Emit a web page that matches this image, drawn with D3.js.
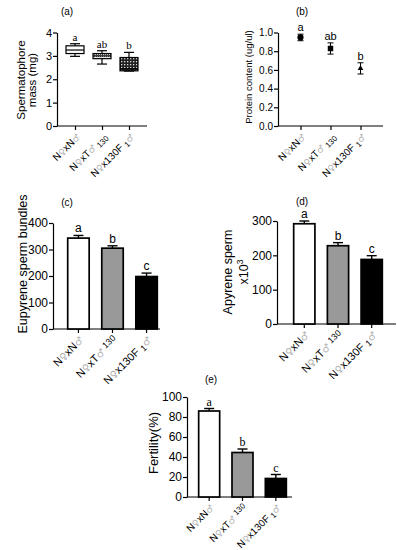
<!DOCTYPE html>
<html>
<head>
<meta http-equiv='Content-Type' content='text/html;charset=utf-8'/>
<title>Mating experiments</title>
<script src='https://cdnjs.cloudflare.com/ajax/libs/d3/7.8.5/d3.min.js'></script>
<style>
	body { margin: 0; background: #fff; }
	text { font-family: Arial, 'Liberation Sans', sans-serif; fill: #000; }
</style>
</head>
<body>
<script>
'use strict'

// groups (crosses) shared by every panel
const groups = ['NxN', 'NxT130', 'Nx130F1']

// (a) spermatophore mass (mg): min, q1, median, q3, max
const massBox = [
	[2.98, 3.1, 3.25, 3.43, 3.52],
	[2.65, 2.88, 3.0, 3.1, 3.22],
	[2.35, 2.36, 2.45, 2.93, 3.15]
]
const massLetters = ['a', 'ab', 'b']
const massTicks = [0, 1, 2, 3, 4]

// (b) protein content (ug/ul)
const protein = [0.947, 0.829, 0.616]
const proteinErr = [0.035, 0.06, 0.06]
const proteinLetters = ['a', 'ab', 'b']
const proteinTicks = [0, 0.2, 0.4, 0.6, 0.8, 1.0]

// (c) eupyrene sperm bundles
const eupyrene = [343, 305, 198]
const eupyreneErr = [10, 9, 13]
const eupyreneLetters = ['a', 'b', 'c']
const eupyreneTicks = [0, 100, 200, 300, 400]

// (d) apyrene sperm x10^3
const apyrene = [292, 228, 188]
const apyreneErr = [8, 9, 11]
const apyreneLetters = ['a', 'b', 'c']
const apyreneTicks = [0, 100, 200, 300]

// (e) fertility (%)
const fertility = [86, 44.5, 18.5]
const fertilityErr = [2.5, 3.5, 4]
const fertilityLetters = ['a', 'b', 'c']
const fertilityTicks = [0, 20, 40, 60, 80, 100]

const barFills = ['#ffffff', '#999999', '#000000']
const symbolGray = '#b0b0b0'

const svg = d3.select('body').append('svg')
	.attr('width', 397)
	.attr('height', 550)

svg.append('rect')
	.attr('width', '100%')
	.attr('height', '100%')
	.attr('fill', '#ffffff')

const defs = svg.append('defs')

// fine dotted fill for the second box
const dots = defs.append('pattern')
	.attr('id', 'dots')
	.attr('width', 2).attr('height', 2)
	.attr('patternUnits', 'userSpaceOnUse')
dots.append('rect').attr('width', 2).attr('height', 2).attr('fill', '#e6e6e6')
dots.append('rect').attr('width', 1).attr('height', 1).attr('fill', '#555')

// checkered fill for the third box
const checks = defs.append('pattern')
	.attr('id', 'checks')
	.attr('width', 3).attr('height', 3)
	.attr('patternUnits', 'userSpaceOnUse')
checks.append('rect').attr('width', 3).attr('height', 3).attr('fill', '#222')
checks.append('rect').attr('x', 1).attr('y', 1).attr('width', 1.3).attr('height', 1.3).attr('fill', '#ddd')

const boxFills = ['#ffffff', 'url(#dots)', 'url(#checks)']

// pieces of each tick label: text and kind (g = grey symbol, s = small index)
const labelParts = [
	[['N'], ['\u2640', 'g'], ['xN'], ['\u2642', 'g']],
	[['N'], ['\u2640', 'g'], ['xT'], ['\u2642', 'g'], [' 130', 's']],
	[['N'], ['\u2640', 'g'], ['x130F '], ['1', 's'], ['\u2642', 'g']]
]

/**
 * tickLabel
 * Writes one rotated group name with grey sex symbols.
 * raise: shift of the small "130" (negative = up)
 */
function tickLabel(g, i, size, raise)
{
	const parts = labelParts[i]
	const t = g.append('text')
		.attr('text-anchor', 'end')
		.attr('font-size', size)
		.attr('dy', '0.35em')
		.attr('transform', 'translate(3,9) rotate(-45)')
	let shifted = 0
	parts.forEach(function(p) {
		const s = t.append('tspan').text(p[0])
		if (p[1] == 'g')
			s.style('fill', symbolGray).attr('font-family', 'DejaVu Sans').attr('font-size', size * 0.9)
		if (p[1] == 's') {
			shifted = p[0] == ' 130' ? raise : 2
			s.attr('font-size', size * 0.8).attr('dy', shifted)
		}
		else if (shifted) {
			s.attr('dy', -shifted)
			shifted = 0
		}
	})
}

/**
 * panel
 * Sets up the axes of one panel and returns its scales.
 */
function panel(o)
{
	const g = svg.append('g')
	const y = d3.scaleLinear().domain(o.yDomain).range([o.y0, o.y1])
	let x
	if (o.band)
		x = d3.scaleBand().domain(groups).range(o.xRange).paddingInner(0.37).paddingOuter(0.05)
	else
		x = d3.scalePoint().domain(groups).range([o.ax0, o.ax1]).padding(o.pad)

	const yAxis = d3.axisLeft(y)
		.tickValues(o.ticks)
		.tickSize(4)
		.tickSizeOuter(0)
		.tickFormat(o.fmt || d3.format('d'))
	const ya = g.append('g')
		.attr('transform', 'translate(' + o.ax0 + ',0)')
		.call(yAxis)
	ya.selectAll('text').attr('font-size', o.tickFont).attr('font-family', 'Arial, Liberation Sans').attr('x', -5)
	ya.selectAll('line, path').attr('stroke', '#000').attr('stroke-width', 1.2)

	// x axis line
	g.append('line')
		.attr('x1', o.ax0).attr('x2', o.ax1)
		.attr('y1', o.y0).attr('y2', o.y0)
		.attr('stroke', '#000').attr('stroke-width', 1.2)

	const xAxis = d3.axisBottom(x).tickSize(4).tickFormat('')
	const xa = g.append('g')
		.attr('transform', 'translate(0,' + o.y0 + ')')
		.call(xAxis)
	xa.select('.domain').remove()
	xa.selectAll('line').attr('stroke', '#000').attr('stroke-width', 1.2)
	xa.selectAll('.tick').each(function(d, i) {
		tickLabel(d3.select(this), i, o.labelFont, o.raise)
	})

	g.append('text')
		.attr('x', o.titleX).attr('y', o.titleY)
		.attr('text-anchor', 'middle')
		.attr('font-size', 10)
		.text(o.title)

	o.yLabel.forEach(function(l) {
		const t = g.append('text')
			.attr('transform', 'translate(' + l[1] + ',' + o.labelY + ') rotate(-90)')
			.attr('text-anchor', 'middle')
			.attr('font-size', o.yLabelFont)
		if (l[0] == 'x10^3') {
			t.append('tspan').text('x10')
			t.append('tspan').text('3').attr('font-size', o.yLabelFont * 0.7).attr('dy', -5)
		}
		else t.text(l[0])
	})
	return {g: g, x: x, y: y}
}

/**
 * bars
 * Draws a bar panel with upper error bars and letters.
 */
function bars(p, values, errs, letters, letterFont, serif)
{
	const bw = p.x.bandwidth()
	p.g.selectAll('rect.bar').data(values).enter().append('rect')
		.attr('class', 'bar')
		.attr('x', function(d, i) { return p.x(groups[i]) })
		.attr('width', bw)
		.attr('y', function(d) { return p.y(d) })
		.attr('height', function(d) { return p.y(0) - p.y(d) })
		.attr('fill', function(d, i) { return barFills[i] })
		.attr('stroke', '#000')
		.attr('stroke-width', 1.7)
	values.forEach(function(v, i) {
		const cx = p.x(groups[i]) + bw / 2
		const top = p.y(v + errs[i])
		p.g.append('line')
			.attr('x1', cx).attr('x2', cx)
			.attr('y1', p.y(v)).attr('y2', top)
			.attr('stroke', '#000').attr('stroke-width', 1.4)
		p.g.append('line')
			.attr('x1', cx - 5).attr('x2', cx + 5)
			.attr('y1', top).attr('y2', top)
			.attr('stroke', '#000').attr('stroke-width', 1.4)
		p.g.append('text')
			.attr('x', cx).attr('y', top - 3)
			.attr('text-anchor', 'middle')
			.attr('font-size', letterFont)
			.style('font-family', serif ? 'Liberation Serif, Times New Roman, serif' : null)
			.text(letters[i])
	})
}

// (a) box plot
const pa = panel({
	yDomain: [0, 4], y0: 126, y1: 32.5, ticks: massTicks,
	ax0: 57, ax1: 147, pad: 0.667, tickFont: 11, labelFont: 10, raise: 2,
	title: '(a)', titleX: 67, titleY: 15,
	yLabel: [['Spermatophore', 25], ['mass (mg)', 36]], labelY: 80, yLabelFont: 11.5
})
massBox.forEach(function(b, i) {
	const cx = pa.x(groups[i])
	const w = 18
	const s = '#000'
	pa.g.append('line').attr('x1', cx).attr('x2', cx)
		.attr('y1', pa.y(b[0])).attr('y2', pa.y(b[4])).attr('stroke', s).attr('stroke-width', 1.2)
	pa.g.append('rect')
		.attr('x', cx - w / 2).attr('width', w)
		.attr('y', pa.y(b[3])).attr('height', pa.y(b[1]) - pa.y(b[3]))
		.attr('fill', boxFills[i]).attr('stroke', s).attr('stroke-width', 1.2)
	pa.g.append('line').attr('x1', cx - w / 2).attr('x2', cx + w / 2)
		.attr('y1', pa.y(b[2])).attr('y2', pa.y(b[2])).attr('stroke', s).attr('stroke-width', 1.2)
	;[b[0], b[4]].forEach(function(v) {
		pa.g.append('line').attr('x1', cx - 5).attr('x2', cx + 5)
			.attr('y1', pa.y(v)).attr('y2', pa.y(v)).attr('stroke', s).attr('stroke-width', 1.2)
	})
	pa.g.append('text')
		.attr('x', cx).attr('y', pa.y(b[4]) - 3)
		.attr('text-anchor', 'middle')
		.attr('font-size', 11)
		.style('font-family', 'Liberation Serif, Times New Roman, serif')
		.text(massLetters[i])
})

// (b) means with error bars
const pb = panel({
	yDomain: [0, 1], y0: 126, y1: 32.5, ticks: proteinTicks, fmt: d3.format('.1f'),
	ax0: 278, ax1: 383, pad: 0.75, tickFont: 10, labelFont: 10, raise: 2,
	title: '(b)', titleX: 302, titleY: 15,
	yLabel: [['Protein content (ug/ul)', 251.5]], labelY: 77, yLabelFont: 9.5
})
const markers = [d3.symbolCircle, d3.symbolSquare, d3.symbolTriangle]
const markerSize = [30, 30, 14]
protein.forEach(function(v, i) {
	const cx = pb.x(groups[i])
	const lo = pb.y(v - proteinErr[i])
	const hi = pb.y(v + proteinErr[i])
	pb.g.append('line').attr('x1', cx).attr('x2', cx).attr('y1', lo).attr('y2', hi)
		.attr('stroke', '#000').attr('stroke-width', 1)
	;[lo, hi].forEach(function(yy) {
		pb.g.append('line').attr('x1', cx - 3).attr('x2', cx + 3).attr('y1', yy).attr('y2', yy)
			.attr('stroke', '#000').attr('stroke-width', 1)
	})
	pb.g.append('path')
		.attr('d', d3.symbol().type(markers[i]).size(markerSize[i])())
		.attr('transform', 'translate(' + cx + ',' + pb.y(v) + ')')
		.attr('fill', '#000')
	pb.g.append('text')
		.attr('x', cx).attr('y', hi - 3)
		.attr('text-anchor', 'middle')
		.attr('font-size', 11)
		.text(proteinLetters[i])
})

// (c) eupyrene sperm bundles
const pc = panel({
	band: true, xRange: [66, 159],
	yDomain: [0, 400], y0: 329, y1: 223, ticks: eupyreneTicks,
	ax0: 53, ax1: 160, tickFont: 12, labelFont: 11, raise: -3,
	title: '(c)', titleX: 67, titleY: 206,
	yLabel: [['Eupyrene sperm bundles', 27]], labelY: 264, yLabelFont: 12.5
})
bars(pc, eupyrene, eupyreneErr, eupyreneLetters, 12, false)

// (d) apyrene sperm
const pd = panel({
	band: true, xRange: [292, 384],
	yDomain: [0, 300], y0: 324, y1: 221, ticks: apyreneTicks,
	ax0: 277, ax1: 396, tickFont: 12, labelFont: 11, raise: -3,
	title: '(d)', titleX: 302, titleY: 205,
	yLabel: [['Apyrene sperm', 232], ['x10^3', 248]], labelY: 272, yLabelFont: 12.5
})
bars(pd, apyrene, apyreneErr, apyreneLetters, 12, false)

// (e) fertility
const pe = panel({
	band: true, xRange: [197, 288],
	yDomain: [0, 100], y0: 497, y1: 397, ticks: fertilityTicks,
	ax0: 187, ax1: 292, tickFont: 12, labelFont: 10, raise: -3,
	title: '(e)', titleX: 211, titleY: 383,
	yLabel: [['Fertility(%)', 158]], labelY: 443, yLabelFont: 13
})
bars(pe, fertility, fertilityErr, fertilityLetters, 12, true)
</script>
</body>
</html>
